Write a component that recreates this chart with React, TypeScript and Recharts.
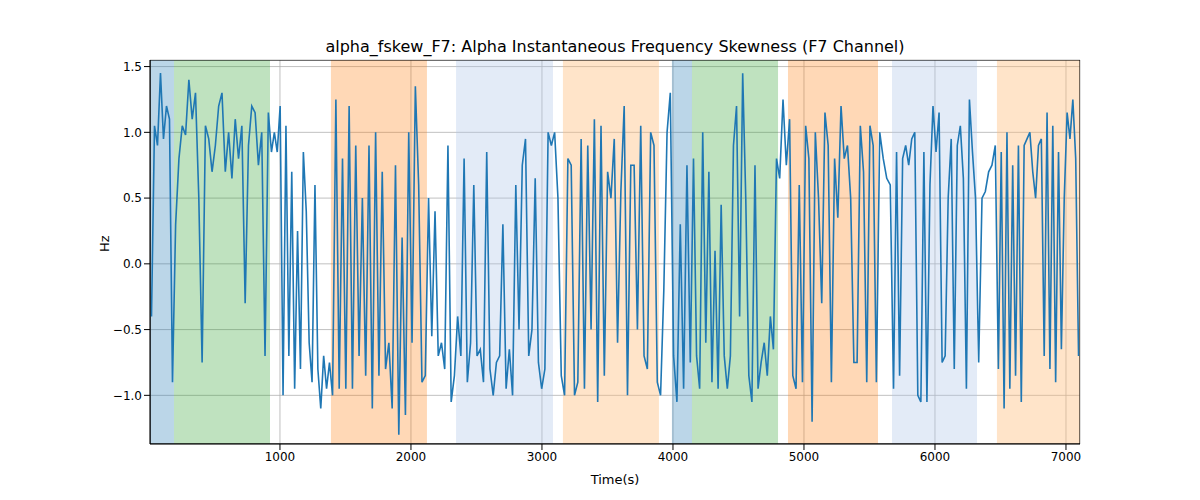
import { LineChart, Line, XAxis, YAxis, CartesianGrid, ReferenceArea } from 'recharts'

// segment boundaries (s) and the values read inside each segment
const segStarts = [8, 191, 924, 1389, 2122, 2344, 3084, 3160, 3893, 3992, 4145, 4802, 4878, 5565, 5672, 6321, 6473]
const segEnds = [191, 924, 1389, 2122, 2344, 3084, 3160, 3893, 3992, 4145, 4802, 4878, 5565, 5672, 6321, 6473, 7107]
const segValues: number[][] = [
  [-0.4, 1.05, 0.9, 1.45, 0.95, 1.2, 1.1, -0.9],
  [0.3, 0.8, 1.05, 0.98, 1.4, 1.1, 1.3, 0.5, -0.75, 1.05, 0.95, 0.7, 0.9, 1.2, 1.3, 0.7, 1.0, 0.65, 1.1, 0.8, 1.05, -0.3, 0.9, 1.2, 1.15, 0.75, 1.0, -0.7, 1.15],
  [0.85, 1.0, 0.85, 1.2, -1.0, 1.05, -0.7, 0.7, -0.95, 0.25, -0.8, 0.85, 0.4, -0.6, -0.9, 0.6, -0.8, -1.1, -0.7, -0.95, -0.75],
  [-1.0, 1.25, -0.95, 0.8, -0.95, 1.2, -0.95, 0.9, -0.7, 0.5, -0.85, 0.9, -1.1, 1.0, -0.85, 0.7, -0.8, -0.6, -1.1, 0.75, -1.3, 0.2, -1.15, 1.0, -0.6, 1.35, 0.6, -0.9, -0.85],
  [0.5, -0.55, 0.4, -0.7, -0.6, -0.8, 0.9, -1.05, -0.85],
  [-0.4, -0.7, 0.8, -0.9, -0.6, 0.6, -0.7, -0.65, -0.9, 0.85, -0.8, -1.0, -0.75, -0.7, 0.3, -0.95, -0.65, -1.0, 0.6, -0.5, 0.75, 0.95, -0.7, -0.5, 0.65, -0.75, -0.95, -0.8, 1.0, 0.9],
  [1.0, 0.5, -0.85],
  [-1.0, 0.8, 0.75, -1.0, -0.9, 0.95, -0.95, 0.9, -0.5, 1.1, -1.05, 1.05, -0.85, 0.7, 0.5, 0.95, -0.6, 0.55, 1.2, -1.0, 0.75, 0.75, -0.5, 1.05, -0.7, -0.8, 1.0, 0.9, -0.9],
  [-1.0, -0.2, 1.0, 1.3],
  [-0.7, -1.05, 0.3, -0.95, 0.75, -0.75],
  [0.8, -0.7, -0.95, 1.0, -0.6, 0.7, -0.9, 0.1, -0.95, 0.45, -0.7, -0.95, -0.7, 0.9, 1.2, -0.4, 1.45, 0.5, -0.85, -1.05, 0.75, -0.95, -0.75, -0.6, -0.85, -0.4, -0.65, 0.8],
  [0.65, 1.25, 0.75],
  [1.1, -0.85, -0.95, 0.6, -0.9, 1.05, 0.8, -1.2, 1.0, 0.5, -0.3, 1.15, 0.9, -0.9, 0.8, 0.35, 1.2, 0.8, 0.9, 0.5, -0.75, -0.75, 1.05, 0.7, -0.9, 1.05, 0.9, -0.9],
  [1.0, 0.8, 0.65, 0.6],
  [-0.95, 0.85, -0.85, 0.8, 0.9, 0.75, 0.95, 1.0, -1.0, -1.05, 0.85, -1.05, 0.6, 1.2, 0.85, 1.15, -0.75, -0.7, 0.5, 0.95, -0.8, 0.9, 1.05, 0.65, -0.95, 1.25, 0.85, 0.5],
  [-0.75, 0.5, 0.55, 0.7, 0.75, 0.9],
  [-0.8, 0.85, -1.1, 1.0, -0.95, 0.75, -0.85, 0.9, -1.05, 0.9, 0.95, 1.0, 0.7, 0.5, 0.9, 0.95, -0.7, 1.15, -0.8, 1.05, -0.9, 0.85, -0.65, 0.5, 1.15, 0.95, 1.25, 0.8, -0.7],
]

const bandStarts = [8, 191, 1389, 2344, 3160, 3992, 4145, 4878, 5672, 6473]
const bandEnds = [191, 924, 2122, 3084, 3893, 4145, 4802, 5565, 6321, 7107]
const bandColors = ['#1f77b4', '#2ca02c', '#ff7f0e', '#aec7e8', '#ffbb78', '#1f77b4', '#2ca02c', '#ff7f0e', '#aec7e8', '#ffbb78']
const bandOpacity = [0.3, 0.3, 0.3, 0.35, 0.4, 0.3, 0.3, 0.3, 0.35, 0.4]

const xTicks = [1000, 2000, 3000, 4000, 5000, 6000, 7000]
const yTicks = [-1.0, -0.5, 0.0, 0.5, 1.0, 1.5]

const data = segValues.flatMap((vals, s) =>
  vals.map((v, i) => ({
    t: segStarts[s] + ((i + 0.5) * (segEnds[s] - segStarts[s])) / vals.length,
    v,
  }))
)

const font = { fontFamily: 'DejaVu Sans', fontSize: 12, fill: '#000' }

export default function App() {
  return (
    <div style={{ position: 'absolute', left: 0, top: 0, width: 1200, height: 500, background: '#fff', fontFamily: 'DejaVu Sans' }}>
      <div style={{ position: 'absolute', top: 37, left: 150, width: 930, textAlign: 'center', fontSize: 16 }}>
        alpha_fskew_F7: Alpha Instantaneous Frequency Skewness (F7 Channel)
      </div>
      <LineChart width={1200} height={500} data={data} margin={{ top: 60, right: 120, bottom: 26, left: 100 }}>
        {bandStarts.map((b, i) => (
          <ReferenceArea key={i} x1={b} x2={bandEnds[i]} fill={bandColors[i]} fillOpacity={bandOpacity[i]} stroke="none" ifOverflow="hidden" />
        ))}
        <CartesianGrid stroke="#b0b0b0" strokeWidth={0.8} />
        <XAxis dataKey="t" type="number" domain={[8, 7107]} ticks={xTicks} allowDataOverflow height={30}
          tick={font} tickLine={{ stroke: '#000' }} axisLine={{ stroke: '#000' }}
          label={{ value: 'Time(s)', position: 'insideBottom', offset: -10, style: { ...font, fontSize: 13 } }} />
        <YAxis type="number" domain={[-1.37, 1.55]} ticks={yTicks} allowDataOverflow width={50}
          tickFormatter={(v: number) => v.toFixed(1).replace('-', '\u2212')}
          tick={font} tickLine={{ stroke: '#000' }} axisLine={{ stroke: '#000' }}
          label={{ value: 'Hz', angle: -90, position: 'insideLeft', offset: 4, style: { ...font, fontSize: 13 } }} />
        <Line dataKey="v" stroke="#1f77b4" strokeWidth={1.6} dot={false} isAnimationActive={false} type="linear" />
        <ReferenceArea x1={8} x2={7107} y1={-1.37} y2={1.55} fill="none" stroke="#000" strokeWidth={1} ifOverflow="hidden" />
      </LineChart>
    </div>
  )
}
